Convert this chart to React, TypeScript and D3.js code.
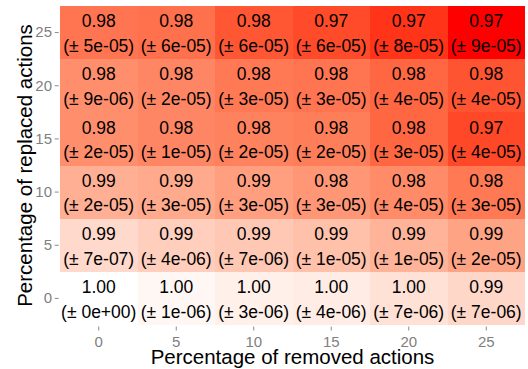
import React, { useEffect, useRef } from 'react';
import * as d3 from 'd3';

// columns: percentage of removed actions, rows: percentage of replaced actions
const removed = ['0', '5', '10', '15', '20', '25'];
const replaced = ['0', '5', '10', '15', '20', '25'];

// mean per row (replaced), one value per removed column
const mean0 = [1.0, 0.9988, 0.9976, 0.9971, 0.9953, 0.9938];
const mean5 = [0.9941, 0.9924, 0.9915, 0.9903, 0.9882, 0.9859];
const mean10 = [0.9877, 0.9868, 0.9853, 0.9841, 0.9824, 0.98];
const mean15 = [0.9829, 0.9818, 0.9812, 0.9806, 0.9777, 0.9744];
const mean20 = [0.9829, 0.9818, 0.98, 0.9794, 0.9777, 0.9756];
const mean25 = [0.9794, 0.9788, 0.9759, 0.9747, 0.9727, 0.9706];

// standard deviation per row
const sd0 = [0, 1e-6, 3e-6, 4e-6, 7e-6, 7e-6];
const sd5 = [7e-7, 4e-6, 7e-6, 1e-5, 1e-5, 2e-5];
const sd10 = [2e-5, 3e-5, 3e-5, 3e-5, 4e-5, 3e-5];
const sd15 = [2e-5, 1e-5, 2e-5, 2e-5, 3e-5, 4e-5];
const sd20 = [9e-6, 2e-5, 3e-5, 3e-5, 4e-5, 4e-5];
const sd25 = [5e-5, 6e-5, 6e-5, 6e-5, 8e-5, 9e-5];

const means = [mean0, mean5, mean10, mean15, mean20, mean25];
const sds = [sd0, sd5, sd10, sd15, sd20, sd25];

const fmtSd = (v: number) => {
    const [m, e] = v.toExponential(0).split('e');
    return `${m}e${e[0]}${e.slice(1).padStart(2, '0')}`;
};

const FONT = '"Liberation Sans", Arial, Helvetica, sans-serif';

export default function App() {
    const ref = useRef<SVGSVGElement>(null);

    useEffect(() => {
        const width = 528;
        const height = 369;
        const left = 60;
        const right = 525;
        const top = 6;
        const bottom = 325;

        const cells: { r: string; c: string; mean: number; sd: number }[] = [];
        replaced.forEach((r, i) => {
            removed.forEach((c, j) => {
                cells.push({ r, c, mean: means[i][j], sd: sds[i][j] });
            });
        });

        const x = d3.scaleBand().domain(removed).range([left, right]);
        const y = d3.scaleBand().domain(replaced).range([bottom, top]);
        const color = d3
            .scaleLinear<string>()
            .domain([d3.min(cells, (d) => d.mean)!, d3.max(cells, (d) => d.mean)!])
            .range(['#FF0000', '#FFFFFF'])
            .interpolate(d3.interpolateLab);

        const svg = d3.select(ref.current);
        svg.selectAll('*').remove();
        svg.attr('width', width).attr('height', height);

        svg.append('rect').attr('width', width).attr('height', height).attr('fill', '#fff');

        svg
            .append('g')
            .selectAll('rect')
            .data(cells)
            .enter()
            .append('rect')
            .attr('x', (d) => x(d.c)!)
            .attr('y', (d) => y(d.r)!)
            .attr('width', x.bandwidth())
            .attr('height', y.bandwidth())
            .attr('fill', (d) => color(d.mean))
            .attr('shape-rendering', 'crispEdges');

        const labels = svg
            .append('g')
            .attr('font-family', FONT)
            .attr('font-size', 17.5)
            .attr('fill', '#000')
            .attr('text-anchor', 'middle');

        labels
            .selectAll('.mean')
            .data(cells)
            .enter()
            .append('text')
            .attr('x', (d) => x(d.c)! + x.bandwidth() / 2)
            .attr('y', (d) => y(d.r)! + y.bandwidth() / 2 - 5.4)
            .text((d) => d.mean.toFixed(2));

        labels
            .selectAll('.sd')
            .data(cells)
            .enter()
            .append('text')
            .attr('x', (d) => x(d.c)! + x.bandwidth() / 2)
            .attr('y', (d) => y(d.r)! + y.bandwidth() / 2 + 19.4)
            .text((d) => `(± ${fmtSd(d.sd)})`);

        const xAxis = svg
            .append('g')
            .attr('transform', `translate(0, ${bottom + 1.5})`)
            .call(d3.axisBottom(x).tickSize(4).tickPadding(5.5).tickSizeOuter(0));
        const yAxis = svg
            .append('g')
            .attr('transform', `translate(${left - 1.3}, 0)`)
            .call(d3.axisLeft(y).tickSize(4).tickPadding(2.7).tickSizeOuter(0));

        [xAxis, yAxis].forEach((g) => {
            g.select('.domain').remove();
            g.selectAll('line').attr('stroke', '#8a8a8a').attr('stroke-width', 1);
            g.selectAll('text')
                .attr('fill', '#7f7f7f')
                .attr('font-size', 15)
                .attr('font-family', FONT);
        });

        svg
            .append('text')
            .attr('x', (left + right) / 2)
            .attr('y', 364)
            .attr('text-anchor', 'middle')
            .attr('font-family', FONT)
            .attr('font-size', 20.5)
            .attr('fill', '#000')
            .text('Percentage of removed actions');

        svg
            .append('text')
            .attr('transform', `translate(32, ${(top + bottom) / 2}) rotate(-90)`)
            .attr('text-anchor', 'middle')
            .attr('font-family', FONT)
            .attr('font-size', 20.5)
            .attr('fill', '#000')
            .text('Percentage of replaced actions');
    }, []);

    return <svg ref={ref} style={{ position: 'absolute', left: 0, top: 0 }}></svg>;
}
